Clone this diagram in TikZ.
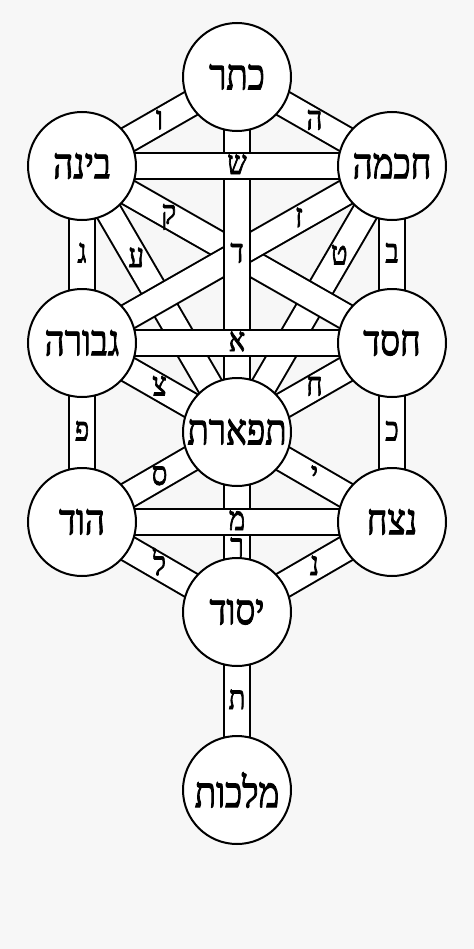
\documentclass[tikz,border=0pt]{standalone}
\usepackage{fontspec}
\newfontfamily\hebfont[Script=Hebrew,FakeStretch=0.82,FakeBold=2]{Liberation Serif}
\TeXXeTstate=1
\newcommand\heb[1]{\hebfont\beginR #1\endR}
\pgfdeclarelayer{paper}
\pgfdeclarelayer{paths}
\pgfdeclarelayer{letters}
\pgfsetlayers{paper,paths,letters,main}
\definecolor{paper}{RGB}{247,247,247}

\tikzset{every picture/.style={line width=0.75pt}}
\tikzset{
  sefira/.style={circle, draw, line width=1.5pt, fill=white, minimum size=81pt, inner sep=0pt, font=\fontsize{32}{32}\selectfont},
  pathedge/.style={draw=black, line width=21pt},
  pathfill/.style={draw=white, line width=18pt},
  letter/.style={inner sep=0pt, text height=12pt, text depth=0pt, font=\fontsize{25}{25}\selectfont},
}
% one path between two sefirot: #1 #2 nodes, #3 place of the letter, #4 letter
\newcommand\sefpath[4]{%
\begin{pgfonlayer}{paths}
\draw[pathedge] (#1.center) -- (#2.center);
\draw[pathfill] (#1.center) -- (#2.center);
\end{pgfonlayer}
\begin{pgfonlayer}{letters}
\path (#1.center) -- (#2.center) node[letter, pos=#3] (#1-#2) {\heb{#4}};
\end{pgfonlayer}}

\begin{document}
\begin{tikzpicture}[x=0.75pt,y=0.75pt,yscale=-1,xscale=1]
\begin{pgfonlayer}{paper}
\fill[paper] (0,0) rectangle (474,949);
\end{pgfonlayer}

%Shape: Circle
\node[sefira] (keter) at (237,77) {\heb{כתר}};
\node[sefira] (chokmah) at (392,166) {\heb{חכמה}};
\node[sefira] (binah) at (82,166) {\heb{בינה}};
\node[sefira] (chesed) at (392,343) {\heb{חסד}};
\node[sefira] (gevurah) at (82,343) {\heb{גבורה}};
\node[sefira] (tiferet) at (237,432) {\heb{תפארת}};
\node[sefira] (netzach) at (392,522) {\heb{נצח}};
\node[sefira] (hod) at (82,522) {\heb{הוד}};
\node[sefira] (yesod) at (237,612) {\heb{יסוד}};
\node[sefira] (malkuth) at (237,790) {\heb{מלכות}};

%Straight Lines, lowest first
\sefpath{binah}{tiferet}{0.35}{ע}
\sefpath{chokmah}{tiferet}{0.34}{ט}
\sefpath{binah}{chesed}{0.28}{ק}
\sefpath{chokmah}{gevurah}{0.30}{ז}
\sefpath{keter}{tiferet}{0.5}{ד}
\sefpath{keter}{binah}{0.5}{ו}
\sefpath{keter}{chokmah}{0.5}{ה}
\sefpath{binah}{chokmah}{0.5}{ש}
\sefpath{binah}{gevurah}{0.5}{ג}
\sefpath{chokmah}{chesed}{0.5}{ב}
\sefpath{gevurah}{chesed}{0.5}{א}
\sefpath{gevurah}{tiferet}{0.5}{צ}
\sefpath{chesed}{tiferet}{0.5}{ח}
\sefpath{gevurah}{hod}{0.5}{פ}
\sefpath{chesed}{netzach}{0.5}{כ}
\sefpath{tiferet}{yesod}{0.65}{ר}
\sefpath{tiferet}{hod}{0.5}{ס}
\sefpath{tiferet}{netzach}{0.5}{י}
\sefpath{hod}{netzach}{0.5}{מ}
\sefpath{hod}{yesod}{0.5}{ל}
\sefpath{netzach}{yesod}{0.5}{נ}
\sefpath{yesod}{malkuth}{0.5}{ת}

\end{tikzpicture}
\end{document}
